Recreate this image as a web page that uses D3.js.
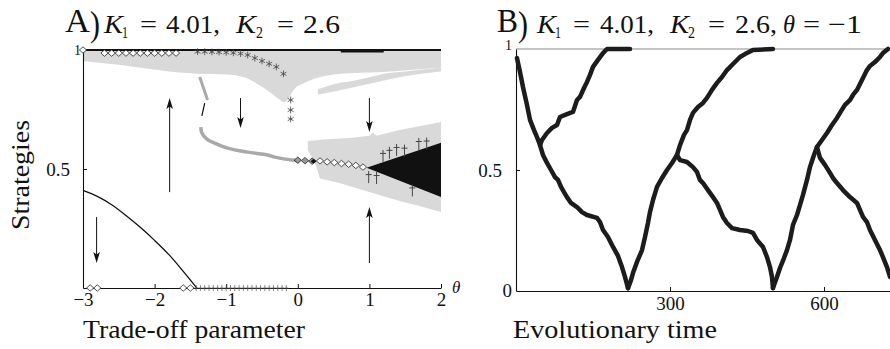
<!DOCTYPE html>
<html><head><meta charset="utf-8">
<script src="https://cdn.jsdelivr.net/npm/d3@7"></script>
<style>
body{margin:0;background:#fff}
svg{display:block}
</style>
</head><body>
<svg id="c" width="890" height="349"></svg>
<script>
// ---------------- DATA ----------------
const thetaTicks = [-3, -2, -1, 0, 1, 2];
const timeTicks = [300, 600];

// Panel A: light-gray upper band (lower edge; upper edge is 1)
const bandTheta = [-3, -2.7, -2.3, -2.0, -1.7, -1.4, -1.0, -0.75, -0.55, -0.4, -0.27, -0.19, -0.12, -0.05, 0.1, 0.3, 0.6, 1.0, 1.4, 2.0];
const bandLow   = [0.954, 0.944, 0.93, 0.918, 0.906, 0.9, 0.897, 0.885, 0.855, 0.825, 0.795, 0.78, 0.8, 0.835, 0.862, 0.885, 0.9, 0.905, 0.912, 0.925];
// gray streak below the band
const streakTheta  = [0.28, 0.45, 0.6, 0.8, 1.0, 1.2, 1.5, 2.0];
const streakTop    = [0.835, 0.852, 0.862, 0.872, 0.885, 0.9, 0.91, 0.925];
const streakBottom = [0.812, 0.822, 0.832, 0.845, 0.858, 0.872, 0.89, 0.91];
// lower-right gray region (boundary, clockwise)
const regionTheta = [0.14, 0.45, 0.73, 1.0, 1.05, 1.1, 1.42, 2.0, 2.0, 1.7, 1.42, 1.0, 0.59, 0.31, 0.25, 0.14];
const regionY     = [0.618, 0.626, 0.63, 0.64, 0.652, 0.64, 0.664, 0.697, 0.319, 0.345, 0.366, 0.403, 0.44, 0.46, 0.517, 0.58];
// black wedge
const wedgeTheta = [0.96, 2.0, 2.0];
const wedgeY     = [0.505, 0.61, 0.382];
// black curve (lower branch)
const curveTheta = [-3, -2.8, -2.6, -2.4, -2.2, -2.0, -1.8, -1.6, -1.41];
const curveY     = [0.41, 0.385, 0.35, 0.305, 0.255, 0.2, 0.14, 0.07, 0];
// gray thick curve
const grayTheta = [-1.355, -1.34, -1.27, -1.16, -0.98, -0.7, -0.42, -0.32, -0.08, 0.0];
const grayY     = [0.676, 0.651, 0.626, 0.609, 0.588, 0.571, 0.559, 0.55, 0.538, 0.537];
const grayStubTheta = [-1.37, -1.26];
const grayStubY     = [0.887, 0.79];
const blackStubTheta = [-1.30, -1.34];
const blackStubY     = [0.777, 0.723];
// thick black segment on top
const topSegTheta = [0.6, 1.2];
// markers
const topDiamondTheta = [-3, -2.7, -2.6, -2.5, -2.4, -2.3, -2.2, -2.1, -2.0, -1.9, -1.8, -1.7];
const topDiamondY     = [1, 0.987, 0.987, 0.987, 0.987, 0.987, 0.987, 0.987, 0.987, 0.987, 0.987, 0.987];
const midGrayDiamondTheta = [0.0, 0.1, 0.2];
const midGrayDiamondY     = [0.537, 0.535, 0.533];
const midDiamondTheta = [0.31, 0.41, 0.51, 0.61, 0.71, 0.81, 0.91];
const midDiamondY     = [0.534, 0.53, 0.527, 0.523, 0.52, 0.515, 0.508];
const botDiamondTheta = [-2.9, -2.8, -1.6, -1.5];
const botDiamondY     = [0, 0, 0, 0];
const starTheta = [-1.4, -1.3, -1.2, -1.1, -1.0, -0.9, -0.8, -0.7, -0.6, -0.5, -0.4, -0.3, -0.2, -0.1, -0.1, -0.1];
const starY     = [0.993, 0.993, 0.992, 0.991, 0.99, 0.988, 0.985, 0.979, 0.966, 0.954, 0.942, 0.929, 0.9, 0.79, 0.748, 0.71];
const plusTheta = [-1.42, -1.36, -1.3, -1.24, -1.18, -1.12, -1.06, -1.0, -0.94, -0.88, -0.82, -0.76, -0.7, -0.64, -0.58, -0.52, -0.46, -0.4, -0.34, -0.28, -0.22, -0.16];
const plusY     = plusTheta.map(() => 0);
const daggerTheta = [1.19, 1.28, 1.38, 1.49, 1.69, 1.8, 0.99, 1.1, 1.6];
const daggerY     = [0.555, 0.568, 0.58, 0.577, 0.605, 0.607, 0.466, 0.462, 0.41];
// arrows
const arrowTheta = [-2.81, -1.79, -0.8, 1, 1];
const arrowFrom  = [0.298, 0.403, 0.798, 0.798, 0.105];
const arrowTo    = [0.105, 0.798, 0.672, 0.655, 0.34];

// Panel B: branches (time, strategy)
const b1T = [1.9, 7.8, 13.6, 21.4, 27.3, 35.1, 40.9, 46.8, 52.6, 60.4, 68.2, 76, 81.8, 87.7, 93.5, 99.3, 107.1, 118.8, 128.6, 138.3, 157.8, 163.6, 169.5, 179.2, 189, 198.7, 206.5, 212.3, 218.2];
const b1Y = [0.963, 0.905, 0.843, 0.769, 0.707, 0.665, 0.636, 0.603, 0.562, 0.529, 0.5, 0.471, 0.459, 0.43, 0.409, 0.388, 0.364, 0.347, 0.326, 0.314, 0.302, 0.285, 0.252, 0.223, 0.182, 0.145, 0.099, 0.058, 0.012];
const b2T = [46.8, 50.6, 60.4, 70.1, 79.9, 85.7, 99.3, 111, 118.8, 124.7, 132.5, 138.3, 144.2, 150, 159.7, 169.5, 177.3, 222.1];
const b2Y = [0.603, 0.624, 0.653, 0.674, 0.686, 0.719, 0.731, 0.74, 0.789, 0.802, 0.839, 0.864, 0.893, 0.926, 0.955, 0.983, 1.0, 1.0];
const b3T = [218.2, 224, 227.9, 235.7, 245.5, 251.3, 257.1, 261, 266.9, 274.7, 284.4, 294.2, 303.9, 313.6, 319.5, 327.3, 333.1, 339, 344.8, 354.5, 364.3, 372.1, 381.8, 391.6, 401.3, 411, 420.8, 436.4, 446.1, 461.7, 500.6];
const b3Y = [0.012, 0.045, 0.074, 0.12, 0.169, 0.223, 0.281, 0.326, 0.376, 0.43, 0.467, 0.5, 0.529, 0.562, 0.603, 0.645, 0.665, 0.707, 0.736, 0.76, 0.777, 0.798, 0.831, 0.86, 0.884, 0.913, 0.934, 0.967, 0.979, 0.996, 1.0];
const b4T = [313.6, 319.5, 333.1, 344.8, 352.6, 358.4, 364.3, 374, 383.8, 391.6, 397.4, 403.2, 411, 420.8, 436.4, 452, 461.7, 469.5, 481.2, 489, 494.8, 498.7, 500.6];
const b4Y = [0.562, 0.541, 0.533, 0.512, 0.492, 0.459, 0.446, 0.417, 0.388, 0.364, 0.335, 0.306, 0.281, 0.26, 0.252, 0.248, 0.24, 0.211, 0.182, 0.14, 0.099, 0.058, 0.012];
const b5T = [500.6, 508.4, 514.3, 522.1, 527.9, 533.8, 539.6, 547.4, 553.2, 559.1, 566.9, 572.7, 580.5, 586.3, 596.1, 605.8, 615.6, 625.3, 631.2, 640.9, 650.6, 656.5, 664.3, 674, 683.7, 689.6, 699.3, 709.1, 714.9, 724.7];
const b5Y = [0.012, 0.058, 0.095, 0.136, 0.169, 0.211, 0.273, 0.314, 0.355, 0.397, 0.459, 0.512, 0.562, 0.595, 0.624, 0.653, 0.686, 0.715, 0.736, 0.769, 0.789, 0.81, 0.831, 0.872, 0.913, 0.93, 0.946, 0.967, 0.983, 1.0];
const b6T = [586.3, 592.2, 601.9, 611.7, 617.5, 625.3, 637, 650.6, 664.3, 670.1, 676, 683.7, 689.6, 699.3, 709.1, 714.9, 722.7, 728.6];
const b6Y = [0.595, 0.55, 0.521, 0.488, 0.467, 0.446, 0.417, 0.388, 0.364, 0.335, 0.306, 0.285, 0.252, 0.211, 0.169, 0.14, 0.099, 0.058];
const branchesT = [b1T, b2T, b3T, b4T, b5T, b6T];
const branchesY = [b1Y, b2Y, b3Y, b4Y, b5Y, b6Y];

// ---------------- DRAW ----------------
const LIGHT = "#d9d9d9", MID = "#a9a9a9", INK = "#111";
const SERIF = "'Liberation Serif', 'Times New Roman', serif";
const svg = d3.select("#c").style("font-family", SERIF);
svg.append("rect").attr("width", 890).attr("height", 349).attr("fill", "#fff");

function measure(str) {
  const t = svg.append("text").attr("font-size", 100).style("font-family", SERIF).text(str);
  const w = t.node().getComputedTextLength();
  t.remove();
  return w;
}
const TICK = Math.min(19, 100 * 29 / (measure("300") || 150));

const xA = d3.scaleLinear().domain([-3, 2]).range([83, 441]);
const yA = d3.scaleLinear().domain([0, 1]).range([288, 50]);
const xB = d3.scaleLinear().domain([0, 728.6]).range([516, 890]);
const yB = d3.scaleLinear().domain([0, 1]).range([291, 49]);

const zip = (a, b) => a.map((v, i) => [v, b[i]]);
const gA = svg.append("g");

gA.append("path")
  .datum(zip(bandTheta, bandLow))
  .attr("d", d3.area().x(d => xA(d[0])).y0(d => yA(d[1])).y1(yA(1)).curve(d3.curveMonotoneX))
  .attr("fill", LIGHT);
gA.append("path")
  .datum(streakTheta.map((t, i) => [t, streakBottom[i], streakTop[i]]))
  .attr("d", d3.area().x(d => xA(d[0])).y0(d => yA(d[1])).y1(d => yA(d[2])).curve(d3.curveMonotoneX))
  .attr("fill", LIGHT);
gA.append("path")
  .datum(zip(regionTheta, regionY))
  .attr("d", d3.line().x(d => xA(d[0])).y(d => yA(d[1])).curve(d3.curveLinearClosed))
  .attr("fill", LIGHT);
gA.append("path")
  .datum(zip(wedgeTheta, wedgeY))
  .attr("d", d3.line().x(d => xA(d[0])).y(d => yA(d[1])).curve(d3.curveLinearClosed))
  .attr("fill", INK);

gA.append("path").datum(zip(curveTheta, curveY))
  .attr("d", d3.line().x(d => xA(d[0])).y(d => yA(d[1])).curve(d3.curveMonotoneX))
  .attr("fill", "none").attr("stroke", INK).attr("stroke-width", 1.3);
gA.append("path").datum(zip(grayTheta, grayY))
  .attr("d", d3.line().x(d => xA(d[0])).y(d => yA(d[1])).curve(d3.curveCatmullRom))
  .attr("fill", "none").attr("stroke", MID).attr("stroke-width", 3.5);
gA.append("path").datum(zip(grayStubTheta, grayStubY))
  .attr("d", d3.line().x(d => xA(d[0])).y(d => yA(d[1]))).attr("fill", "none").attr("stroke", MID).attr("stroke-width", 3);
gA.append("path").datum(zip(blackStubTheta, blackStubY))
  .attr("d", d3.line().x(d => xA(d[0])).y(d => yA(d[1]))).attr("fill", "none").attr("stroke", INK).attr("stroke-width", 1.2);

gA.append("line").attr("x1", xA(-3)).attr("x2", xA(2)).attr("y1", yA(1)).attr("y2", yA(1))
  .attr("stroke", INK).attr("stroke-width", 1.8);
gA.append("line").attr("x1", xA(topSegTheta[0])).attr("x2", xA(topSegTheta[1])).attr("y1", yA(1) + 1).attr("y2", yA(1) + 1)
  .attr("stroke", INK).attr("stroke-width", 3);

function styleAxis(g) {
  g.attr("font-family", SERIF).attr("font-size", TICK);
  g.selectAll("path.domain").attr("stroke", INK).attr("stroke-width", 1.1);
  g.selectAll(".tick line").attr("stroke", INK).attr("stroke-width", 1);
  g.selectAll(".tick text").attr("fill", INK);
}
gA.append("g").attr("transform", `translate(0,${yA(0)})`)
  .call(d3.axisBottom(xA).tickValues(thetaTicks).tickSizeInner(-4).tickSizeOuter(0).tickPadding(5)
    .tickFormat(d => d < 0 ? "\u2212" + Math.abs(d) : String(d)))
  .call(styleAxis);
gA.append("g").attr("transform", `translate(${xA(-3)},0)`)
  .call(d3.axisLeft(yA).tickValues([0.5]).tickSizeInner(-4).tickSizeOuter(0).tickPadding(13))
  .call(styleAxis);
gA.append("text").attr("x", xA(-3) - 2).attr("y", yA(1) + 5).attr("text-anchor", "end").attr("font-size", 14).attr("fill", INK).text("1");
gA.append("text").attr("x", xA(2) + 11).attr("y", yA(0) + 5).attr("font-size", 17).attr("font-style", "italic").attr("fill", INK).text("\u03B8");

arrowTheta.forEach((t, i) => {
  const x = xA(t), y0 = yA(arrowFrom[i]), y1 = yA(arrowTo[i]);
  const dir = y1 > y0 ? 1 : -1;
  gA.append("line").attr("x1", x).attr("x2", x).attr("y1", y0).attr("y2", y1 - dir * 8)
    .attr("stroke", INK).attr("stroke-width", 1);
  gA.append("path")
    .attr("d", `M${x},${y1}L${x - 3.3},${y1 - dir * 11}L${x},${y1 - dir * 8.5}L${x + 3.3},${y1 - dir * 11}Z`)
    .attr("fill", INK);
});

const diamond = "M0,-3.2L3.6,0L0,3.2L-3.6,0Z";
function diamonds(th, ys, fill) {
  gA.append("g").selectAll("path").data(zip(th, ys)).join("path")
    .attr("transform", d => `translate(${xA(d[0])},${yA(d[1])})`)
    .attr("d", diamond).attr("fill", fill).attr("stroke", "#222").attr("stroke-width", 0.8);
}
diamonds(topDiamondTheta, topDiamondY, "#fff");
diamonds(botDiamondTheta, botDiamondY, "#fff");
diamonds(midGrayDiamondTheta, midGrayDiamondY, "#9a9a9a");
gA.append("path").attr("transform", `translate(${xA(0.22)},${yA(0.533)})`).attr("d", "M0,-2.5L3,0L0,2.5L-3,0Z").attr("fill", INK);
diamonds(midDiamondTheta, midDiamondY, "#fff");

const star = "M0,-3.4V3.4M-2.95,-1.7L2.95,1.7M-2.95,1.7L2.95,-1.7";
gA.append("g").selectAll("path").data(zip(starTheta, starY)).join("path")
  .attr("transform", d => `translate(${xA(d[0])},${yA(d[1])})`)
  .attr("d", star).attr("fill", "none").attr("stroke", "#444").attr("stroke-width", 0.8);

gA.append("g").selectAll("path").data(zip(plusTheta, plusY)).join("path")
  .attr("transform", d => `translate(${xA(d[0])},${yA(d[1])})`)
  .attr("d", "M0,-3V3M-2,0H2").attr("fill", "none").attr("stroke", "#555").attr("stroke-width", 0.7);

gA.append("g").selectAll("path").data(zip(daggerTheta, daggerY)).join("path")
  .attr("transform", d => `translate(${xA(d[0])},${yA(d[1])})`)
  .attr("d", "M0,-6V6M-3,-2.5H3").attr("fill", "none").attr("stroke", "#444").attr("stroke-width", 1);

// ---------------- Panel B ----------------
const gB = svg.append("g");
gB.append("line").attr("x1", xB(0)).attr("x2", 890).attr("y1", yB(1)).attr("y2", yB(1))
  .attr("stroke", "#888").attr("stroke-width", 1);
gB.append("g").attr("transform", `translate(0,${yB(0)})`)
  .call(d3.axisBottom(xB).tickValues(timeTicks).tickSizeInner(-4).tickSizeOuter(0).tickPadding(6))
  .call(styleAxis);
gB.append("g").attr("transform", `translate(${xB(0)},0)`)
  .call(d3.axisLeft(yB).tickValues([0.5]).tickSizeInner(-4).tickSizeOuter(0).tickPadding(14))
  .call(styleAxis);
gB.append("text").attr("x", xB(0) - 4).attr("y", yB(0) + 6).attr("text-anchor", "end").attr("font-size", TICK).attr("fill", INK).text("0");
gB.append("text").attr("x", xB(0) - 4).attr("y", yB(1) + 1).attr("text-anchor", "end").attr("font-size", 14).attr("fill", INK).text("1");

const lineB = d3.line().x(d => xB(d[0])).y(d => yB(d[1]));
branchesT.forEach((ts, i) => {
  gB.append("path").datum(zip(ts, branchesY[i])).attr("d", lineB)
    .attr("fill", "none").attr("stroke", "#1c1c1c").attr("stroke-width", 4.5)
    .attr("stroke-linejoin", "round").attr("stroke-linecap", "round");
});

// ---------------- Titles & labels ----------------
function piece(x, y, size, txt, italic, w) {
  const t = svg.append("text").attr("x", x).attr("y", y).attr("font-size", size).attr("fill", INK).text(txt);
  if (italic) t.attr("font-style", "italic");
  if (w) t.attr("textLength", w).attr("lengthAdjust", "spacingAndGlyphs");
  return t;
}
piece(65, 32, 34, "A", false, 25);
piece(90, 36, 36, ")", false, 10);
piece(104, 33, 26, "K", true, 19);
piece(122, 38, 17, "1", false, 6);
piece(140, 33, 26, "=", false, 17);
piece(166, 33, 26, "4.01,", false, 54);
piece(236, 33, 26, "K", true, 20);
piece(256, 38, 17, "2", false, 7);
piece(277, 33, 26, "=", false, 17);
piece(303, 33, 26, "2.6", false, 37);

piece(497, 32, 34, "B", false, 21);
piece(518, 36, 36, ")", false, 10);
piece(537, 33, 26, "K", true, 19);
piece(555, 38, 17, "1", false, 6);
piece(573, 33, 26, "=", false, 17);
piece(600, 33, 26, "4.01,", false, 54);
piece(670, 33, 26, "K", true, 19);
piece(688, 38, 17, "2", false, 7);
piece(708, 33, 26, "=", false, 17);
piece(735, 33, 26, "2.6,", false, 42);
piece(783, 33, 26, "\u03B8", true, 12);
piece(803, 33, 26, "=", false, 17);
piece(828, 33, 26, "\u22121", false, 34);

svg.append("text").attr("transform", "translate(29,175) rotate(-90)").attr("text-anchor", "middle").attr("fill", INK)
  .attr("font-size", 25).attr("textLength", 110).attr("lengthAdjust", "spacingAndGlyphs").text("Strategies");
svg.append("text").attr("x", 83).attr("y", 338).attr("font-size", 25).attr("fill", INK)
  .attr("textLength", 222).attr("lengthAdjust", "spacingAndGlyphs").text("Trade-off parameter");
svg.append("text").attr("x", 513).attr("y", 338).attr("font-size", 25).attr("fill", INK)
  .attr("textLength", 204).attr("lengthAdjust", "spacingAndGlyphs").text("Evolutionary time");
</script>
</body></html>
